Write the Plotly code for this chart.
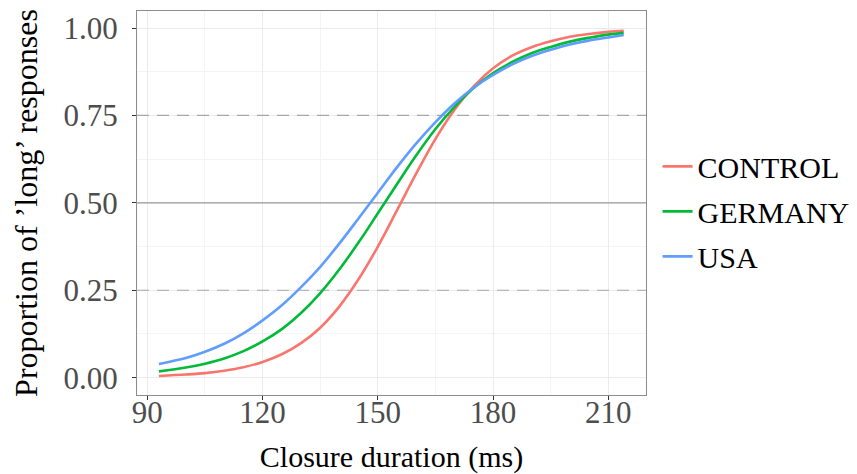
import plotly.graph_objects as go

closure_ms = [93, 100, 105, 110, 115, 120, 125, 130, 135, 140, 145, 150, 155,
              160, 165, 170, 175, 180, 185, 190, 195, 200, 205, 210, 214]

control = [0.005, 0.009, 0.013, 0.020, 0.030, 0.045, 0.067, 0.099, 0.143, 0.204,
           0.282, 0.375, 0.479, 0.584, 0.683, 0.767, 0.834, 0.885, 0.921, 0.945,
           0.962, 0.975, 0.983, 0.989, 0.992]
germany = [0.018, 0.029, 0.040, 0.055, 0.076, 0.104, 0.139, 0.185, 0.242, 0.310,
           0.387, 0.470, 0.554, 0.636, 0.711, 0.775, 0.829, 0.871, 0.903, 0.928,
           0.946, 0.961, 0.972, 0.981, 0.986]
usa = [0.039, 0.056, 0.074, 0.097, 0.127, 0.164, 0.207, 0.259, 0.317, 0.384,
       0.456, 0.529, 0.602, 0.670, 0.731, 0.785, 0.830, 0.866, 0.896, 0.920,
       0.938, 0.953, 0.964, 0.973, 0.980]

series_names = ["CONTROL", "GERMANY", "USA"]
series_colors = ["#F8766D", "#00BA38", "#619CFF"]

dashed_levels = [0.25, 0.75]
solid_levels = [0.5]

x_range = [87.3, 219.8]
y_range = [-0.0495, 1.0486]
x_ticks = [90, 120, 150, 180, 210]
x_minor = [105, 135, 165, 195]
y_ticks = [0.0, 0.25, 0.5, 0.75, 1.0]
y_minor = [0.125, 0.375, 0.625, 0.875]
y_ticklabels = ["0.00", "0.25", "0.50", "0.75", "1.00"]

FONT = "Liberation Serif"

fig = go.Figure()
# reference lines, drawn first so the curves sit on top
for lv in dashed_levels:
    fig.add_trace(go.Scatter(x=x_range, y=[lv, lv], mode="lines", showlegend=False,
                             hoverinfo="skip",
                             line=dict(color="#a8a8a8", width=1.2, dash="12px,8px")))
for lv in solid_levels:
    fig.add_trace(go.Scatter(x=x_range, y=[lv, lv], mode="lines", showlegend=False,
                             hoverinfo="skip", line=dict(color="#9a9a9a", width=1.2)))

for name, color, vals in zip(series_names, series_colors, [control, germany, usa]):
    fig.add_trace(go.Scatter(x=closure_ms, y=vals, mode="lines", name=name,
                             legendgroup=name,
                             line=dict(color=color, width=2.6, shape="spline")))

fig.update_layout(
    width=857, height=474,
    margin=dict(l=137, r=211, t=11, b=79, autoexpand=False),
    plot_bgcolor="white", paper_bgcolor="white",
    font=dict(family=FONT, size=30, color="black"),
    showlegend=True,
    legend=dict(x=0.7673, xref="container", xanchor="left", y=0.554, yref="container",
                yanchor="middle",
                font=dict(family=FONT, size=30, color="black"),
                bgcolor="rgba(0,0,0,0)", tracegroupgap=3, itemwidth=30),
)

fig.update_xaxes(
    range=x_range, tickmode="array", tickvals=x_ticks,
    ticktext=[str(v) for v in x_ticks],
    tickfont=dict(family=FONT, size=31, color="#4d4d4d"),
    ticks="outside", ticklen=4, tickwidth=1, tickcolor="#333333", ticklabelstandoff=-14,
    showgrid=True, gridcolor="#ebebeb", gridwidth=1,
    minor=dict(tickvals=x_minor, showgrid=True, gridcolor="#f4f4f4", gridwidth=1, ticks=""),
    zeroline=False, showline=True, linecolor="#8c8c8c", linewidth=1, mirror=True,
    automargin=False,
    title=dict(text="Closure duration (ms)", font=dict(family=FONT, size=30, color="black"), standoff=24),
)
fig.update_yaxes(
    range=y_range, tickmode="array", tickvals=y_ticks, ticktext=y_ticklabels,
    tickfont=dict(family=FONT, size=31, color="#4d4d4d"),
    ticks="outside", ticklen=4, tickwidth=1, tickcolor="#333333", ticklabelstandoff=8,
    showgrid=True, gridcolor="#ebebeb", gridwidth=1,
    minor=dict(tickvals=y_minor, showgrid=True, gridcolor="#f4f4f4", gridwidth=1, ticks=""),
    zeroline=False, showline=True, linecolor="#8c8c8c", linewidth=1, mirror=True,
    automargin=False,
    title=dict(text="Proportion of \u2019long\u2019 responses", font=dict(family=FONT, size=32, color="black"), standoff=16),
)

fig.write_html("out.html")
